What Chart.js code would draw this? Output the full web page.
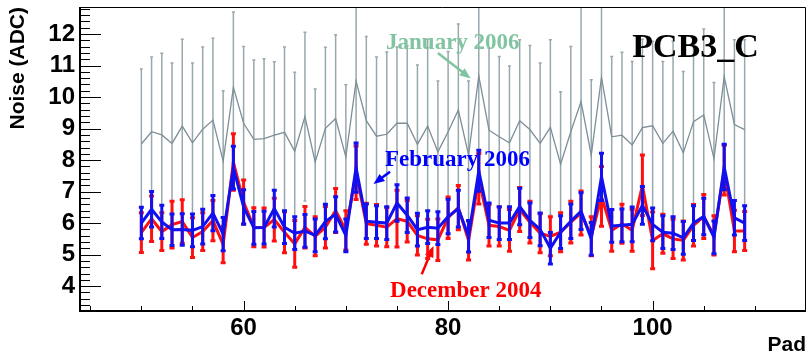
<!DOCTYPE html>
<html>
<head>
<meta charset="utf-8">
<script src="https://cdn.jsdelivr.net/npm/chart.js@4.4.0/dist/chart.umd.min.js"></script>
<style>
  html, body { margin: 0; padding: 0; background: #fff; }
  #wrap { width: 808px; height: 361px; }
</style>
</head>
<body>
<div id="wrap"><canvas id="noiseChart" width="808" height="361"></canvas></div>
<script>
const pads = [50, 51, 52, 53, 54, 55, 56, 57, 58, 59, 60, 61, 62, 63, 64, 65, 66, 67, 68, 69,
  70, 71, 72, 73, 74, 75, 76, 77, 78, 79, 80, 81, 82, 83, 84, 85, 86, 87, 88, 89,
  90, 91, 92, 93, 94, 95, 96, 97, 98, 99, 100, 101, 102, 103, 104, 105, 106, 107, 108, 109];

// January 2006
const janNoise = [8.51, 8.90, 8.80, 8.53, 9.08, 8.55, 8.98, 9.27, 7.97, 10.31, 9.17, 8.66, 8.68, 8.79, 8.88, 8.28, 9.38, 7.94, 9.01, 9.32,
  8.10, 10.51, 9.25, 8.76, 8.82, 9.17, 9.17, 8.50, 9.08, 8.26, 8.90, 9.59, 8.16, 10.67, 8.95, 8.74, 8.55, 9.25, 8.97, 8.53,
  9.04, 7.87, 8.90, 9.86, 8.16, 10.63, 8.74, 8.79, 8.48, 9.03, 9.09, 8.53, 8.92, 8.23, 9.22, 9.43, 8.05, 10.65, 9.13, 8.97];
const janErr = [2.38, 2.37, 2.59, 2.55, 2.76, 2.53, 2.61, 2.60, 2.23, 2.39, 2.44, 2.52, 2.54, 2.33, 2.71, 2.51, 2.68, 2.32, 2.57, 2.66,
  2.29, 2.60, 2.67, 2.51, 2.61, 2.42, 2.46, 2.52, 2.76, 2.25, 2.55, 2.73, 2.35, 2.60, 2.60, 2.55, 2.44, 2.57, 2.67, 2.55,
  2.78, 2.30, 2.71, 3.10, 2.39, 2.60, 2.55, 2.63, 2.65, 2.81, 2.68, 2.60, 2.85, 2.58, 2.65, 2.73, 2.41, 2.60, 2.69, 2.85];

// February 2006
const febNoise = [6.00, 6.44, 6.04, 5.79, 5.80, 5.77, 5.89, 6.32, 5.65, 7.76, 6.51, 5.85, 5.86, 6.46, 5.87, 5.68, 5.75, 5.61, 6.05, 6.28,
  5.61, 7.76, 6.06, 6.03, 6.00, 6.64, 6.25, 5.79, 5.87, 5.84, 6.21, 6.46, 5.58, 7.66, 6.09, 6.00, 6.00, 6.53, 6.09, 5.80,
  5.20, 5.71, 6.06, 6.38, 5.50, 7.47, 5.91, 5.93, 5.96, 6.56, 5.96, 5.71, 5.68, 5.53, 6.00, 6.21, 5.55, 7.78, 6.17, 6.00];
const febErr = [0.50, 0.56, 0.53, 0.50, 0.50, 0.52, 0.55, 0.56, 0.53, 0.68, 0.55, 0.52, 0.52, 0.58, 0.52, 0.52, 0.52, 0.52, 0.55, 0.56,
  0.52, 0.78, 0.55, 0.52, 0.52, 0.58, 0.55, 0.52, 0.52, 0.52, 0.55, 0.58, 0.50, 0.65, 0.55, 0.52, 0.52, 0.58, 0.55, 0.52,
  0.50, 0.52, 0.55, 0.58, 0.52, 0.75, 0.52, 0.52, 0.55, 0.60, 0.52, 0.52, 0.52, 0.52, 0.55, 0.58, 0.52, 0.72, 0.55, 0.55];

// December 2004
const decNoise = [5.70, 6.14, 5.73, 5.95, 6.05, 5.54, 5.73, 6.08, 5.32, 7.94, 6.67, 5.87, 5.86, 6.11, 5.71, 5.34, 5.87, 5.58, 5.87, 6.40,
  5.77, 7.60, 5.98, 5.93, 5.87, 6.14, 6.06, 5.61, 5.50, 5.47, 6.17, 6.49, 5.45, 7.41, 5.93, 5.89, 5.77, 6.43, 6.03, 5.68,
  5.58, 5.71, 6.03, 6.32, 5.58, 6.85, 5.77, 5.98, 5.77, 7.20, 5.45, 5.66, 5.50, 5.45, 5.93, 6.21, 5.61, 7.68, 5.75, 5.75];
const decErr = [0.63, 0.72, 0.60, 0.74, 0.69, 0.63, 0.60, 0.64, 0.58, 0.90, 0.70, 0.62, 0.62, 0.68, 0.65, 0.74, 0.66, 0.62, 0.66, 0.70,
  0.62, 0.85, 0.65, 0.66, 0.62, 0.90, 0.66, 0.62, 0.62, 0.66, 0.66, 0.70, 0.62, 0.80, 0.66, 0.62, 0.66, 0.70, 0.66, 0.62,
  0.62, 0.62, 0.66, 0.70, 0.62, 0.95, 0.66, 0.62, 0.66, 0.96, 0.90, 0.62, 0.62, 0.62, 0.66, 0.70, 0.62, 0.79, 0.66, 0.62];

const xTickVals = [60, 80, 100];
const yTickVals = [4, 5, 6, 7, 8, 9, 10, 11, 12];

const SANS = '"Liberation Sans", Arial, Helvetica, sans-serif';
const SERIF = '"Liberation Serif", "Times New Roman", serif';

function toPoints(vals) {
  return pads.map((p, i) => ({ x: p, y: vals[i] }));
}

// vertical error bars with small caps, drawn just before each series line
const errorBars = {
  id: 'errorBars',
  beforeDatasetDraw(chart, args) {
    const ds = chart.data.datasets[args.index];
    if (!ds.errors) return;
    const { ctx, chartArea: a, scales: { x, y } } = chart;
    ctx.save();
    ctx.beginPath();
    ctx.rect(a.left, a.top, a.right - a.left, a.bottom - a.top);
    ctx.clip();
    ctx.strokeStyle = ds.errColor;
    ctx.lineWidth = ds.errWidth;
    ds.data.forEach((p, i) => {
      const px = x.getPixelForValue(p.x);
      const top = y.getPixelForValue(p.y + ds.errors[i]);
      const bot = y.getPixelForValue(p.y - ds.errors[i]);
      ctx.beginPath();
      ctx.moveTo(px, top);
      ctx.lineTo(px, bot);
      ctx.moveTo(px - ds.capSize, top);
      ctx.lineTo(px + ds.capSize, top);
      ctx.moveTo(px - ds.capSize, bot);
      ctx.lineTo(px + ds.capSize, bot);
      ctx.stroke();
    });
    ctx.restore();
  }
};

function arrow(ctx, x0, y0, x1, y1, color) {
  const ang = Math.atan2(y1 - y0, x1 - x0);
  const len = 11, half = 4.5;
  ctx.strokeStyle = color;
  ctx.fillStyle = color;
  ctx.lineWidth = 2.5;
  ctx.beginPath();
  ctx.moveTo(x0, y0);
  ctx.lineTo(x1 - Math.cos(ang) * len * 0.8, y1 - Math.sin(ang) * len * 0.8);
  ctx.stroke();
  ctx.beginPath();
  ctx.moveTo(x1, y1);
  ctx.lineTo(x1 - Math.cos(ang) * len - Math.sin(ang) * half, y1 - Math.sin(ang) * len + Math.cos(ang) * half);
  ctx.lineTo(x1 - Math.cos(ang) * len + Math.sin(ang) * half, y1 - Math.sin(ang) * len - Math.cos(ang) * half);
  ctx.closePath();
  ctx.fill();
}

// labels drawn over the January points but under the other two series
const labels = {
  id: 'labels',
  afterDatasetDraw(chart, args) {
    if (args.index !== 2) return;
    const { ctx, scales: { x, y } } = chart;
    const X = v => x.getPixelForValue(v), Y = v => y.getPixelForValue(v);
    ctx.save();
    ctx.textBaseline = 'alphabetic';
    ctx.textAlign = 'left';

    ctx.font = 'bold 23px ' + SERIF;
    ctx.fillStyle = '#80c4a0';
    ctx.fillText('January 2006', X(73.93), Y(11.53));
    arrow(ctx, X(79.0), Y(11.40), X(82.2), Y(10.59), '#80c4a0');

    ctx.font = 'bold 34px ' + SERIF;
    ctx.fillStyle = '#000';
    ctx.fillText('PCB3_C', X(98.0), Y(11.28));

    ctx.font = 'bold 23px ' + SERIF;
    ctx.fillStyle = '#0000ff';
    ctx.fillText('February 2006', X(73.83), Y(7.81));
    arrow(ctx, X(74.32), Y(7.63), X(72.7), Y(7.24), '#0000ff');

    ctx.fillStyle = '#ff0000';
    ctx.fillText('December 2004', X(74.32), Y(3.66));
    arrow(ctx, X(77.42), Y(4.38), X(78.57), Y(5.27), '#ff0000');
    ctx.restore();
  }
};

// frame and inward tick marks
const frame = {
  id: 'frame',
  afterDraw(chart) {
    const { ctx, chartArea: a, scales: { x, y } } = chart;
    ctx.save();
    ctx.strokeStyle = '#000';
    ctx.lineWidth = 1;
    ctx.beginPath();
    for (let k = 16; k <= 65; k++) {
      const v = k / 5;
      if (v <= y.min || v >= y.max) continue;
      const py = Math.round(y.getPixelForValue(v)) + 0.5;
      const len = k % 5 === 0 ? 21 : 10;
      ctx.moveTo(a.left, py);
      ctx.lineTo(a.left + len, py);
    }
    for (let v = 45; v < x.max; v += 5) {
      const px = Math.round(x.getPixelForValue(v)) + 0.5;
      const len = v % 20 === 0 ? 10 : 5;
      ctx.moveTo(px, a.bottom);
      ctx.lineTo(px, a.bottom - len);
    }
    ctx.stroke();

    ctx.beginPath();
    ctx.moveTo(a.left, a.top + 0.5);
    ctx.lineTo(a.right - 0.5, a.top + 0.5);
    ctx.lineTo(a.right - 0.5, a.bottom);
    ctx.stroke();

    ctx.lineWidth = 2;
    ctx.beginPath();
    ctx.moveTo(a.left, a.top);
    ctx.lineTo(a.left, a.bottom);
    ctx.lineTo(a.right, a.bottom);
    ctx.stroke();
    ctx.restore();
  }
};

new Chart(document.getElementById('noiseChart'), {
  type: 'line',
  data: {
    datasets: [
      {
        label: 'February 2006',
        data: toPoints(febNoise),
        errors: febErr,
        borderColor: '#1010f0',
        borderWidth: 3,
        errColor: '#1010f0',
        errWidth: 3,
        capSize: 2.5,
        pointRadius: 0,
        tension: 0,
      },
      {
        label: 'December 2004',
        data: toPoints(decNoise),
        errors: decErr,
        borderColor: '#ff1010',
        borderWidth: 3,
        errColor: '#ff1010',
        errWidth: 3,
        capSize: 2.5,
        pointRadius: 0,
        tension: 0,
      },
      {
        label: 'January 2006',
        data: toPoints(janNoise),
        errors: janErr,
        borderColor: '#7d8e96',
        borderWidth: 1.3,
        errColor: '#98a8af',
        errWidth: 1.5,
        capSize: 1.5,
        pointRadius: 0,
        tension: 0,
      },
    ],
  },
  options: {
    responsive: false,
    animation: false,
    devicePixelRatio: 1,
    layout: { padding: { top: 7, right: 2, left: 0, bottom: 0 } },
    plugins: { legend: { display: false }, tooltip: { enabled: false } },
    scales: {
      x: {
        type: 'linear',
        min: 44,
        max: 115,
        grid: { display: false, drawTicks: false },
        border: { display: false },
        afterBuildTicks: (s) => { s.ticks = xTickVals.map(v => ({ value: v })); },
        afterFit: (s) => { s.height = 50; s.paddingLeft = 0; s.paddingRight = 0; },
        ticks: { autoSkip: false, maxRotation: 0, padding: 3, color: '#000', font: { family: SANS, size: 24, weight: 'bold' } },
        title: { display: true, text: 'Pad', align: 'end', color: '#000', font: { family: SANS, size: 21, weight: 'bold' }, padding: { top: 0, bottom: 3 } },
      },
      y: {
        type: 'linear',
        min: 3.21,
        max: 12.86,
        grid: { display: false, drawTicks: false },
        border: { display: false },
        afterBuildTicks: (s) => { s.ticks = yTickVals.map(v => ({ value: v })); },
        afterFit: (s) => { s.width = 80; s.paddingTop = 0; s.paddingBottom = 0; },
        ticks: { autoSkip: false, padding: 5, color: '#000', font: { family: SANS, size: 24, weight: 'bold' } },
        title: { display: true, text: 'Noise (ADC)', align: 'end', color: '#000', font: { family: SANS, size: 21, weight: 'bold' }, padding: { top: 6, bottom: 0 } },
      },
    },
  },
  plugins: [errorBars, labels, frame],
});
</script>
</body>
</html>
